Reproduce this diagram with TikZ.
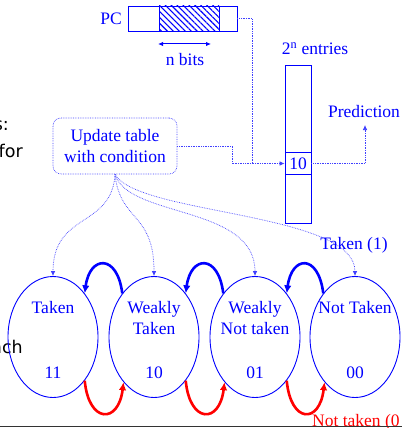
\documentclass[tikz,border=0pt]{standalone}
\usepackage{fontspec}
\setmainfont{Liberation Serif}
\newfontfamily\slidesans{DejaVu Sans}
\usetikzlibrary{arrows.meta,patterns.meta,shapes.geometric}
\begin{document}
\begin{tikzpicture}[x=1pt,y=-1pt,
  every node/.style={font=\fontsize{17.5}{20.5}\selectfont, text=blue, inner sep=0pt},
  cell/.style={draw=blue, line width=0.9pt, rectangle, minimum height=25pt},
  tablebox/.style={draw=blue, line width=0.9pt, rectangle, minimum width=26pt},
  state/.style={draw=blue, ellipse, line width=0.9pt, minimum width=90pt, minimum height=121pt},
  flow/.style={draw=blue!75, densely dotted, line width=0.7pt},
  smalltip/.style={-{Latex[length=5pt,width=4.5pt]}},
  upmove/.style={draw=blue, line width=2.6pt, -{Latex[length=8pt,width=7.5pt]}},
  downmove/.style={draw=red, line width=2.6pt, -{Latex[length=8pt,width=7.5pt]}},
  slidetext/.style={font=\slidesans\fontsize{17.5}{21}\selectfont, text=black, anchor=base east},
]
\useasboundingbox (0,0) rectangle (402,428);
\clip (0,0) rectangle (402,428);

% text of the slide behind the figure
\node[slidetext] (s1) at (9,130) {s:};
\node[slidetext] (s2) at (23,157) {for};
\node[slidetext] (s3) at (23,353) {nch};

% program counter with the index bits hatched
\node (pclabel) at (111,19) {PC};
\node[cell, minimum width=31pt] (pcl) at (143.5,18.5) {};
\node[cell, minimum width=60pt, pattern={Lines[angle=-45,distance=4.2pt,line width=1.1pt]}, pattern color=blue] (pch) at (189,18.5) {};
\node[cell, minimum width=18pt] (pcr) at (228,18.5) {};
\coordinate (nbl) at (158,44);
\coordinate (nbr) at (211,44);
\draw[blue, line width=1pt, {Latex[length=5pt,width=4.5pt]}-{Latex[length=5pt,width=4.5pt]}] (nbl) -- (nbr);
\node (nbits) at (185,60) {n bits};

% prediction table
\node (entries) at (315,49) {2\textsuperscript{n} entries};
\node[tablebox, minimum height=158pt] (tab) at (298,144) {};
\node[tablebox, minimum height=22pt] (row) at (298,163.5) {10};
\node (pred) at (364,112) {Prediction};
\coordinate (predtip) at (365,125);
\draw[flow, smalltip] (row.east) -| (predtip);

% update box and its links
\node[draw=blue!75, densely dotted, line width=0.7pt, rounded corners=8pt,
      minimum width=124pt, minimum height=56pt, align=center] (upd) at (115,146)
      {Update table\\with condition};
\coordinate (jn) at (252,163.5);
\coordinate (bend) at (232,146);
\draw[flow] (pcr.east) -| (jn);
\draw[flow, smalltip] (upd.east) -- (bend) |- (row.west);

% two-bit counter states
\node[state] (e1) at (53,337) {};
\node[state] (e2) at (154,337) {};
\node[state] (e3) at (255,337) {};
\node[state] (e4) at (355,337) {};
\node (t1) at (53,308) {Taken};
\node[align=center] (t2) at (154,318) {Weakly\\Taken};
\node[align=center] (t3) at (255,318) {Weakly\\Not taken};
\node (t4) at (355,308) {Not Taken};
\node (c1) at (53,373) {11};
\node (c2) at (154,373) {10};
\node (c3) at (255,373) {01};
\node (c4) at (355,373) {00};

% fan-out of the update to every state
\draw[flow, smalltip] (upd.south) .. controls (112,228) and (53,212) .. (e1.north);
\draw[flow, smalltip] (upd.south) .. controls (120,222) and (154,212) .. (e2.north);
\draw[flow, smalltip] (upd.south) .. controls (128,218) and (255,205) .. (e3.north);
\draw[flow, smalltip] (upd.south) .. controls (138,215) and (355,212) .. (e4.north);
\node (tk) at (354,245) {Taken (1)};

% taken moves toward strongly taken
\draw[upmove] (e2.126) .. controls +(-5,-40) and +(5,-38) .. (e1.54);
\draw[upmove] (e3.126) .. controls +(-5,-40) and +(5,-38) .. (e2.54);
\draw[upmove] (e4.126) .. controls +(-5,-40) and +(5,-38) .. (e3.54);

% not-taken moves toward strongly not taken
\draw[downmove] (e1.-54) .. controls +(4,43) and +(-5,42) .. (e2.-124);
\draw[downmove] (e2.-54) .. controls +(4,43) and +(-5,42) .. (e3.-124);
\draw[downmove] (e3.-54) .. controls +(4,43) and +(-5,42) .. (e4.-124);
\node[text=red, anchor=west] (ntk) at (312,422) {Not taken (0};

% slide rule along the bottom
\coordinate (rl) at (0,426.5);
\coordinate (rr) at (402,426.5);
\draw[black!80, line width=1.6pt] (rl) -- (rr);
\end{tikzpicture}
\end{document}
